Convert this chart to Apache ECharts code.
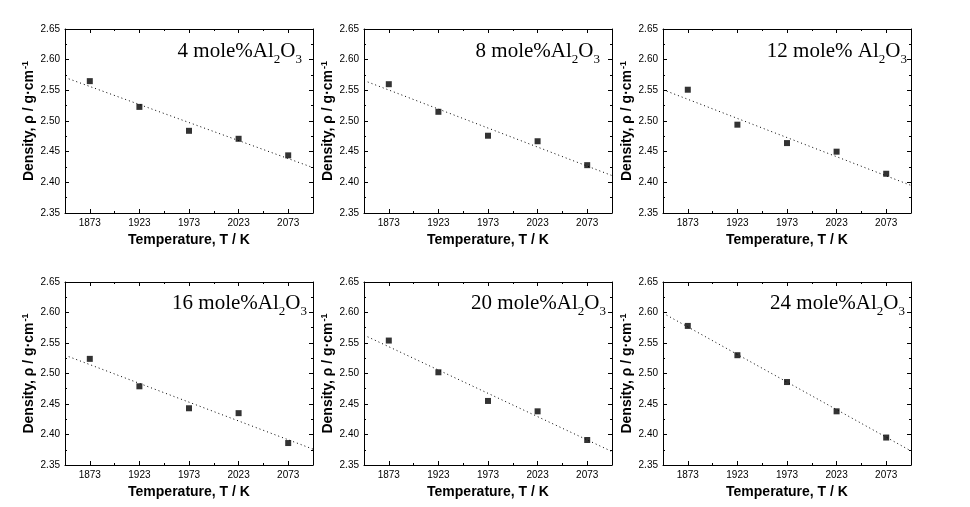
<!DOCTYPE html>
<html>
<head>
<meta charset="utf-8">
<script src="https://cdn.jsdelivr.net/npm/echarts@6/dist/echarts.min.js"></script>
<style>
  html, body { margin: 0; padding: 0; background: #fff; }
  #chart { width: 970px; height: 507px; }
</style>
</head>
<body>
<div id="chart"></div>
<script>
// temperatures (K) and tick positions
const temps = [1873, 1923, 1973, 2023, 2073];
const minorTemps = [1898, 1948, 1998, 2048];
const fitTemps = [1848, 2098];

// panel labels (mole% Al2O3)
const panelLabels = ["4 mole%Al", "8 mole%Al", "12 mole% Al", "16 mole%Al", "20 mole%Al", "24 mole%Al"];

// measured densities, g/cm3
const d4 = [2.565, 2.523, 2.484, 2.471, 2.444];
const d8 = [2.560, 2.515, 2.476, 2.467, 2.428];
const d12 = [2.551, 2.494, 2.464, 2.450, 2.414];
const d16 = [2.524, 2.479, 2.443, 2.435, 2.386];
const d20 = [2.554, 2.502, 2.455, 2.438, 2.391];
const d24 = [2.578, 2.530, 2.486, 2.438, 2.395];

// linear fit values at the plot edges (fitTemps)
const f4 = [2.571, 2.424];
const f8 = [2.566, 2.411];
const f12 = [2.551, 2.395];
const f16 = [2.530, 2.376];
const f20 = [2.563, 2.372];
const f24 = [2.599, 2.373];

const densities = [d4, d8, d12, d16, d20, d24];
const fits = [f4, f8, f12, f16, f20, f24];

const sans = "'Liberation Sans', Arial, sans-serif";
const serif = "'Liberation Serif', 'Times New Roman', serif";

const colLeft = [65, 364, 663];
const rowTop = [29, 282];
const titleRight = [668, 370, 63, 663, 364, 65];

const chart = echarts.init(document.getElementById("chart"));

const grid = [];
const xAxis = [];
const yAxis = [];
const series = [];
const title = [];

densities.forEach(function (vals, i) {
  const row = Math.floor(i / 3);
  const col = i % 3;
  grid.push({
    left: colLeft[col],
    top: rowTop[row],
    width: 248,
    height: row === 0 ? 184 : 183,
  });

  const line = { show: true, lineStyle: { color: "#000", width: 1 } };
  const xBase = { gridIndex: i, type: "value", min: 1848, max: 2098, splitLine: { show: false } };

  // bottom axis with labels
  xAxis.push(Object.assign({}, xBase, {
    position: "bottom",
    axisLine: line,
    axisTick: { inside: true, length: 4, customValues: temps, lineStyle: { color: "#000" } },
    axisLabel: {
      customValues: temps, color: "#000", fontSize: 10, fontFamily: sans, margin: 5,
      formatter: function (v) { return String(v); },
    },
    name: "Temperature, T / K",
    nameLocation: "middle",
    nameGap: 20,
    nameTextStyle: { color: "#000", fontSize: 14, fontWeight: "bold", fontFamily: sans },
  }));
  // bottom minor ticks
  xAxis.push(Object.assign({}, xBase, {
    position: "bottom",
    axisLine: { show: false },
    axisTick: { inside: true, length: 2, customValues: minorTemps, lineStyle: { color: "#000" } },
    axisLabel: { show: false },
  }));
  // top axis
  xAxis.push(Object.assign({}, xBase, {
    position: "top",
    axisLine: line,
    axisTick: { inside: true, length: 4, customValues: temps, lineStyle: { color: "#000" } },
    axisLabel: { show: false },
  }));
  xAxis.push(Object.assign({}, xBase, {
    position: "top",
    axisLine: { show: false },
    axisTick: { inside: true, length: 2, customValues: minorTemps, lineStyle: { color: "#000" } },
    axisLabel: { show: false },
  }));

  const yBase = {
    gridIndex: i,
    type: "value",
    min: 2.35,
    max: 2.65,
    interval: 0.05,
    splitLine: { show: false },
    axisLine: line,
    axisTick: { inside: true, length: 4, lineStyle: { color: "#000" } },
    minorTick: { show: true, splitNumber: 2, length: 2, lineStyle: { color: "#000" } },
  };
  yAxis.push(Object.assign({}, yBase, {
    position: "left",
    axisLabel: {
      color: "#000", fontSize: 10, fontFamily: sans, margin: 5,
      formatter: function (v) { return v.toFixed(2); },
    },
    name: "Density, \u03c1 / g\u00b7cm{sup|-1}",
    nameLocation: "middle",
    nameRotate: 90,
    nameGap: 26,
    nameTextStyle: {
      color: "#000", fontSize: 14, fontWeight: "bold", fontFamily: sans,
      rich: { sup: { color: "#000", fontSize: 9, fontWeight: "bold", fontFamily: sans, verticalAlign: "top", padding: [0, 0, 8, 1] } },
    },
  }));
  yAxis.push(Object.assign({}, yBase, {
    position: "right",
    axisLabel: { show: false },
  }));

  series.push({
    type: "line",
    xAxisIndex: i * 4,
    yAxisIndex: i * 2,
    data: fitTemps.map(function (t, k) { return [t, fits[i][k]]; }),
    symbol: "none",
    silent: true,
    lineStyle: { color: "#000", width: 1, type: [1, 3] },
    z: 2,
  });
  series.push({
    type: "scatter",
    xAxisIndex: i * 4,
    yAxisIndex: i * 2,
    data: temps.map(function (t, k) { return [t, vals[k]]; }),
    symbol: "rect",
    symbolSize: 6,
    itemStyle: { color: "#000" },
    z: 3,
  });

  title.push({
    text: "{n|" + panelLabels[i] + "}{s|2}{n|O}{s|3}",
    right: titleRight[i],
    top: row === 0 ? 41 : 293,
    padding: 0,
    textStyle: {
      fontWeight: "normal",
      rich: {
        n: { fontFamily: serif, fontSize: 21, fontWeight: "normal", color: "#000", lineHeight: 21 },
        s: { fontFamily: serif, fontSize: 13, fontWeight: "normal", color: "#000", verticalAlign: "bottom", lineHeight: 13, padding: [0, 0, -4, 0] },
      },
    },
  });
});

chart.setOption({
  animation: false,
  backgroundColor: "#fff",
  title: title,
  grid: grid,
  xAxis: xAxis,
  yAxis: yAxis,
  series: series,
});
window.addEventListener("resize", function () {
  chart.resize();
});
</script>
</body>
</html>
